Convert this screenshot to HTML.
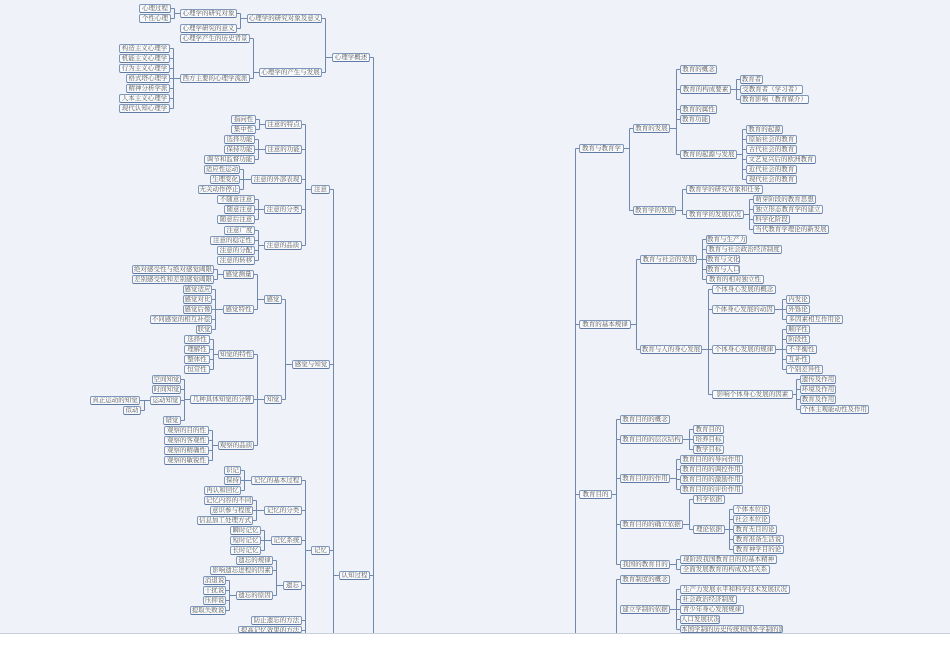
<!DOCTYPE html>
<html><head><meta charset="utf-8"><style>
html,body{margin:0;padding:0;}
body{width:950px;height:672px;background:#fff;position:relative;overflow:hidden;font-family:"Liberation Serif","Noto Serif CJK SC",serif;}
#bg{position:absolute;left:0;top:0;width:950px;height:633px;background:#eff3f9;border-bottom:1px solid #c8ceda;}
.n{position:absolute;height:9px;box-sizing:border-box;border:1px solid #7f97ba;border-bottom-color:#5f7aa2;border-radius:2px;background:#f8fafd;font-size:6.5px;line-height:7px;color:#555;white-space:nowrap;overflow:hidden;text-align:center;z-index:2;}
svg{position:absolute;left:0;top:0;z-index:1;}
</style></head><body>
<div id="bg"></div>
<svg id="s" width="950" height="633"></svg>
<div class=n id=a1 style="left:139px;top:4px;width:32px">心理过程</div>
<div class=n id=a2 style="left:139px;top:14px;width:32px">个性心理</div>
<div class=n id=a3 style="left:180px;top:9px;width:57px">心理学的研究对象</div>
<div class=n id=a4 style="left:180px;top:24px;width:57px">心理学研究的意义</div>
<div class=n id=a5 style="left:247px;top:14px;width:75px">心理学的研究对象及意义</div>
<div class=n id=a6 style="left:180px;top:34px;width:70px">心理学产生的历史背景</div>
<div class=n id=b1 style="left:119px;top:44px;width:51px">构造主义心理学</div>
<div class=n id=b2 style="left:119px;top:54px;width:51px">机能主义心理学</div>
<div class=n id=b3 style="left:119px;top:64px;width:51px">行为主义心理学</div>
<div class=n id=b4 style="left:126px;top:74px;width:44px">格式塔心理学</div>
<div class=n id=b5 style="left:126px;top:84px;width:44px">精神分析学派</div>
<div class=n id=b6 style="left:119px;top:94px;width:51px">人本主义心理学</div>
<div class=n id=b7 style="left:119px;top:104px;width:51px">现代认知心理学</div>
<div class=n id=b8 style="left:180px;top:74px;width:70px">西方主要的心理学流派</div>
<div class=n id=a7 style="left:259px;top:68px;width:63px">心理学的产生与发展</div>
<div class=n id=a0 style="left:332px;top:53px;width:38px">心理学概述</div>

<div class=n id=c1 style="left:231px;top:115px;width:25px">指向性</div>
<div class=n id=c2 style="left:231px;top:125px;width:25px">集中性</div>
<div class=n id=c3 style="left:265px;top:120px;width:37px">注意的特点</div>
<div class=n id=c4 style="left:224px;top:135px;width:31px">选择功能</div>
<div class=n id=c5 style="left:224px;top:145px;width:31px">保持功能</div>
<div class=n id=c6 style="left:204px;top:155px;width:51px">调节和监督功能</div>
<div class=n id=c7 style="left:265px;top:145px;width:37px">注意的功能</div>
<div class=n id=c8 style="left:204px;top:165px;width:36px">适应性运动</div>
<div class=n id=c9 style="left:210px;top:175px;width:30px">生理变化</div>
<div class=n id=c10 style="left:198px;top:185px;width:42px">无关动作停止</div>
<div class=n id=c11 style="left:251px;top:175px;width:51px">注意的外部表现</div>
<div class=n id=c0 style="left:311px;top:185px;width:19px">注意</div>
<div class=n id=c12 style="left:217px;top:195px;width:38px">不随意注意</div>
<div class=n id=c13 style="left:224px;top:205px;width:31px">随意注意</div>
<div class=n id=c14 style="left:217px;top:215px;width:38px">随意后注意</div>
<div class=n id=c15 style="left:264px;top:205px;width:38px">注意的分类</div>
<div class=n id=c16 style="left:224px;top:226px;width:31px">注意广度</div>
<div class=n id=c17 style="left:210px;top:236px;width:45px">注意的稳定性</div>
<div class=n id=c18 style="left:217px;top:246px;width:38px">注意的分配</div>
<div class=n id=c19 style="left:217px;top:256px;width:38px">注意的转移</div>
<div class=n id=c20 style="left:264px;top:241px;width:38px">注意的品质</div>

<div class=n id=d1 style="left:132px;top:265px;width:82px">绝对感受性与绝对感觉阈限</div>
<div class=n id=d2 style="left:132px;top:275px;width:82px">差别感受性和差别感觉阈限</div>
<div class=n id=d3 style="left:223px;top:270px;width:31px">感觉测量</div>
<div class=n id=d4 style="left:183px;top:285px;width:29px">感觉适应</div>
<div class=n id=d5 style="left:183px;top:295px;width:29px">感觉对比</div>
<div class=n id=d6 style="left:183px;top:305px;width:29px">感觉后像</div>
<div class=n id=d7 style="left:150px;top:315px;width:62px">不同感觉的相互补偿</div>
<div class=n id=d8 style="left:196px;top:325px;width:16px">联觉</div>
<div class=n id=d9 style="left:223px;top:305px;width:31px">感觉特性</div>
<div class=n id=d10 style="left:264px;top:295px;width:18px">感觉</div>
<div class=n id=e1 style="left:184px;top:335px;width:26px">选择性</div>
<div class=n id=e2 style="left:184px;top:345px;width:26px">理解性</div>
<div class=n id=e3 style="left:184px;top:355px;width:26px">整体性</div>
<div class=n id=e4 style="left:184px;top:365px;width:26px">恒常性</div>
<div class=n id=e5 style="left:218px;top:350px;width:36px">知觉的特性</div>
<div class=n id=e6 style="left:152px;top:375px;width:29px">空间知觉</div>
<div class=n id=e7 style="left:152px;top:385px;width:29px">时间知觉</div>
<div class=n id=e8 style="left:90px;top:396px;width:50px">真正运动的知觉</div>
<div class=n id=e9 style="left:123px;top:406px;width:18px">似动</div>
<div class=n id=e10 style="left:150px;top:396px;width:31px">运动知觉</div>
<div class=n id=e11 style="left:163px;top:416px;width:18px">错觉</div>
<div class=n id=e12 style="left:190px;top:395px;width:64px">几种具体知觉的分辨</div>
<div class=n id=e13 style="left:264px;top:395px;width:18px">知觉</div>
<div class=n id=e0 style="left:292px;top:360px;width:38px">感觉与知觉</div>
<div class=n id=e14 style="left:164px;top:426px;width:45px">观察的目的性</div>
<div class=n id=e15 style="left:164px;top:436px;width:45px">观察的客观性</div>
<div class=n id=e16 style="left:164px;top:446px;width:45px">观察的精确性</div>
<div class=n id=e17 style="left:164px;top:456px;width:45px">观察的敏锐性</div>
<div class=n id=e18 style="left:218px;top:441px;width:36px">观察的品质</div>

<div class=n id=f1 style="left:224px;top:466px;width:17px">识记</div>
<div class=n id=f2 style="left:224px;top:476px;width:17px">保持</div>
<div class=n id=f3 style="left:204px;top:486px;width:37px">再认和回忆</div>
<div class=n id=f4 style="left:251px;top:476px;width:51px">记忆的基本过程</div>
<div class=n id=f5 style="left:204px;top:496px;width:49px">记忆内容的不同</div>
<div class=n id=f6 style="left:210px;top:506px;width:43px">意识参与程度</div>
<div class=n id=f7 style="left:197px;top:516px;width:56px">信息加工处理方式</div>
<div class=n id=f8 style="left:264px;top:506px;width:38px">记忆的分类</div>
<div class=n id=f9 style="left:230px;top:526px;width:31px">瞬时记忆</div>
<div class=n id=f10 style="left:230px;top:536px;width:31px">短时记忆</div>
<div class=n id=f11 style="left:230px;top:546px;width:31px">长时记忆</div>
<div class=n id=f12 style="left:271px;top:536px;width:31px">记忆系统</div>
<div class=n id=f0 style="left:311px;top:546px;width:19px">记忆</div>
<div class=n id=f13 style="left:236px;top:556px;width:37px">遗忘的规律</div>
<div class=n id=f14 style="left:210px;top:566px;width:63px">影响遗忘进程的因素</div>
<div class=n id=f15 style="left:203px;top:576px;width:23px">消退说</div>
<div class=n id=f16 style="left:203px;top:586px;width:23px">干扰说</div>
<div class=n id=f17 style="left:203px;top:596px;width:23px">压抑说</div>
<div class=n id=f18 style="left:190px;top:606px;width:36px">提取失败说</div>
<div class=n id=f19 style="left:236px;top:591px;width:37px">遗忘的原因</div>
<div class=n id=f20 style="left:283px;top:581px;width:19px">遗忘</div>
<div class=n id=f21 style="left:251px;top:616px;width:51px">防止遗忘的方法</div>
<div class=n id=f22 style="left:238px;top:626px;width:64px;height:7px">提高记忆效果的方法</div>
<div class=n id=g0 style="left:339px;top:571px;width:31px">认知过程</div>

<div class=n id=r1 style="left:579px;top:144px;width:45px">教育与教育学</div>
<div class=n id=r2 style="left:633px;top:124px;width:37px">教育的发展</div>
<div class=n id=r3 style="left:680px;top:65px;width:37px">教育的概念</div>
<div class=n id=r4 style="left:680px;top:85px;width:51px">教育的构成要素</div>
<div class=n id=r5 style="left:740px;top:75px;width:23px">教育者</div>
<div class=n id=r6 style="left:740px;top:85px;width:63px">受教育者（学习者）</div>
<div class=n id=r7 style="left:740px;top:95px;width:69px">教育影响（教育媒介）</div>
<div class=n id=r8 style="left:680px;top:105px;width:37px">教育的属性</div>
<div class=n id=r9 style="left:680px;top:115px;width:30px">教育功能</div>
<div class=n id=r10 style="left:680px;top:150px;width:57px">教育的起源与发展</div>
<div class=n id=r11 style="left:746px;top:125px;width:37px">教育的起源</div>
<div class=n id=r12 style="left:746px;top:135px;width:51px">原始社会的教育</div>
<div class=n id=r13 style="left:746px;top:145px;width:51px">古代社会的教育</div>
<div class=n id=r14 style="left:746px;top:155px;width:70px">文艺复兴后的欧洲教育</div>
<div class=n id=r15 style="left:746px;top:165px;width:51px">近代社会的教育</div>
<div class=n id=r16 style="left:746px;top:175px;width:51px">现代社会的教育</div>
<div class=n id=r17 style="left:633px;top:206px;width:43px">教育学的发展</div>
<div class=n id=r18 style="left:686px;top:185px;width:77px">教育学的研究对象和任务</div>
<div class=n id=r19 style="left:686px;top:210px;width:58px">教育学的发展状况</div>
<div class=n id=r20 style="left:753px;top:195px;width:63px">萌芽阶段的教育思想</div>
<div class=n id=r21 style="left:753px;top:205px;width:70px">独立形态教育学的建立</div>
<div class=n id=r22 style="left:753px;top:215px;width:37px">科学化阶段</div>
<div class=n id=r23 style="left:753px;top:225px;width:76px">当代教育学理论的新发展</div>

<div class=n id=s0 style="left:579px;top:320px;width:52px">教育的基本规律</div>
<div class=n id=s1 style="left:640px;top:255px;width:57px">教育与社会的发展</div>
<div class=n id=s2 style="left:706px;top:235px;width:41px">教育与生产力</div>
<div class=n id=s3 style="left:706px;top:245px;width:76px">教育与社会政治经济制度</div>
<div class=n id=s4 style="left:706px;top:255px;width:34px">教育与文化</div>
<div class=n id=s5 style="left:706px;top:265px;width:34px">教育与人口</div>
<div class=n id=s6 style="left:706px;top:275px;width:58px">教育的相对独立性</div>
<div class=n id=s7 style="left:640px;top:345px;width:62px">教育与人的身心发展</div>
<div class=n id=s8 style="left:712px;top:285px;width:64px">个体身心发展的概念</div>
<div class=n id=s9 style="left:712px;top:305px;width:63px">个体身心发展的动因</div>
<div class=n id=s10 style="left:786px;top:295px;width:24px">内发论</div>
<div class=n id=s11 style="left:786px;top:305px;width:24px">外铄论</div>
<div class=n id=s12 style="left:786px;top:315px;width:57px">多因素相互作用论</div>
<div class=n id=s13 style="left:712px;top:345px;width:64px">个体身心发展的规律</div>
<div class=n id=s14 style="left:786px;top:325px;width:24px">顺序性</div>
<div class=n id=s15 style="left:786px;top:335px;width:24px">阶段性</div>
<div class=n id=s16 style="left:786px;top:345px;width:31px">不平衡性</div>
<div class=n id=s17 style="left:786px;top:355px;width:24px">互补性</div>
<div class=n id=s18 style="left:786px;top:365px;width:37px">个别差异性</div>
<div class=n id=s19 style="left:712px;top:390px;width:81px">影响个体身心发展的因素</div>
<div class=n id=s20 style="left:800px;top:375px;width:36px">遗传及作用</div>
<div class=n id=s21 style="left:800px;top:385px;width:36px">环境及作用</div>
<div class=n id=s22 style="left:800px;top:395px;width:36px">教育及作用</div>
<div class=n id=s23 style="left:800px;top:405px;width:69px">个体主观能动性及作用</div>

<div class=n id=t0 style="left:579px;top:490px;width:33px">教育目的</div>
<div class=n id=t1 style="left:620px;top:415px;width:50px">教育目的的概念</div>
<div class=n id=t2 style="left:620px;top:435px;width:63px">教育目的的层次结构</div>
<div class=n id=t3 style="left:693px;top:425px;width:31px">教育目的</div>
<div class=n id=t4 style="left:693px;top:435px;width:31px">培养目标</div>
<div class=n id=t5 style="left:693px;top:445px;width:31px">教学目标</div>
<div class=n id=t6 style="left:620px;top:474px;width:50px">教育目的的作用</div>
<div class=n id=t7 style="left:680px;top:455px;width:63px">教育目的的导向作用</div>
<div class=n id=t8 style="left:680px;top:465px;width:63px">教育目的的调控作用</div>
<div class=n id=t9 style="left:680px;top:475px;width:63px">教育目的的激励作用</div>
<div class=n id=t10 style="left:680px;top:485px;width:63px">教育目的的评价作用</div>
<div class=n id=t11 style="left:620px;top:520px;width:63px">教育目的的确立依据</div>
<div class=n id=t12 style="left:693px;top:495px;width:32px">科学依据</div>
<div class=n id=t13 style="left:693px;top:525px;width:32px">理论依据</div>
<div class=n id=t14 style="left:733px;top:505px;width:37px">个体本位论</div>
<div class=n id=t15 style="left:733px;top:515px;width:37px">社会本位论</div>
<div class=n id=t16 style="left:733px;top:525px;width:44px">教育无目的论</div>
<div class=n id=t17 style="left:733px;top:535px;width:51px">教育准备生活说</div>
<div class=n id=t18 style="left:733px;top:545px;width:51px">教育神学目的论</div>
<div class=n id=t19 style="left:620px;top:560px;width:50px">我国的教育目的</div>
<div class=n id=t20 style="left:680px;top:555px;width:97px">现阶段我国教育目的的基本精神</div>
<div class=n id=t21 style="left:680px;top:565px;width:90px">全面发展教育的构成及其关系</div>
<div class=n id=u1 style="left:620px;top:575px;width:50px">教育制度的概念</div>
<div class=n id=u2 style="left:620px;top:605px;width:50px">建立学制的依据</div>
<div class=n id=u3 style="left:680px;top:585px;width:110px">生产力发展水平和科学技术发展状况</div>
<div class=n id=u4 style="left:680px;top:595px;width:57px">社会政治经济制度</div>
<div class=n id=u5 style="left:680px;top:605px;width:64px">青少年身心发展规律</div>
<div class=n id=u6 style="left:680px;top:615px;width:40px">人口发展状况</div>
<div class=n id=u7 style="left:680px;top:625px;width:103px;height:8px">本国学制的历史传统和国外学制的影响</div>
<script>
(function(){
var s=document.getElementById('s'),NS='http://www.w3.org/2000/svg';
function ln(x1,y1,x2,y2){var l=document.createElementNS(NS,'line');l.setAttribute('x1',x1);l.setAttribute('y1',y1);l.setAttribute('x2',x2);l.setAttribute('y2',y2);l.setAttribute('stroke','#6f88ad');l.setAttribute('stroke-width','1');s.appendChild(l);}
function b(id){var e=document.getElementById(id);var l=parseFloat(e.style.left),t=parseFloat(e.style.top),w=parseFloat(e.style.width);return {l:l,r:l+w,cy:t+4.5};}
function L(p,cs){var P=b(p),mr=0,ys=[P.cy];cs.forEach(function(c){var C=b(c);mr=Math.max(mr,C.r);});var bx=mr+3.5;
cs.forEach(function(c){var C=b(c);ln(C.r,C.cy,bx,C.cy);ys.push(C.cy);});ln(bx,P.cy,P.l,P.cy);ln(bx,Math.min.apply(0,ys),bx,Math.max.apply(0,ys));}
function R(p,cs){var P=b(p),ml=9999,ys=[P.cy];cs.forEach(function(c){var C=b(c);ml=Math.min(ml,C.l);});var bx=ml-3.5;
cs.forEach(function(c){var C=b(c);ln(bx,C.cy,C.l,C.cy);ys.push(C.cy);});ln(P.r,P.cy,bx,P.cy);ln(bx,Math.min.apply(0,ys),bx,Math.max.apply(0,ys));}
L('a3',['a1','a2']);L('a5',['a3','a4']);L('b8',['b1','b2','b3','b4','b5','b6','b7']);L('a7',['a6','b8']);L('a0',['a5','a7']);
L('c3',['c1','c2']);L('c7',['c4','c5','c6']);L('c11',['c8','c9','c10']);L('c15',['c12','c13','c14']);L('c20',['c16','c17','c18','c19']);
L('c0',['c3','c7','c11','c15','c20']);
L('d3',['d1','d2']);L('d9',['d4','d5','d6','d7','d8']);L('d10',['d3','d9']);
L('e5',['e1','e2','e3','e4']);L('e10',['e8','e9']);L('e12',['e6','e7','e10','e11']);L('e18',['e14','e15','e16','e17']);L('e13',['e5','e12','e18']);L('e0',['d10','e13']);
L('f4',['f1','f2','f3']);L('f8',['f5','f6','f7']);L('f12',['f9','f10','f11']);L('f19',['f15','f16','f17','f18']);L('f20',['f13','f14','f19']);
L('f0',['f4','f8','f12','f20','f21','f22']);ln(305.5,626,305.5,633);
L('g0',['c0','e0','f0']);ln(333.5,550,333.5,633);
ln(373.5,57.5,373.5,633);ln(370,57.5,373.5,57.5);ln(370,575.5,373.5,575.5);
R('r4',['r5','r6','r7']);R('r10',['r11','r12','r13','r14','r15','r16']);R('r2',['r3','r4','r8','r9','r10']);
R('r19',['r20','r21','r22','r23']);R('r17',['r18','r19']);R('r1',['r2','r17']);
R('s1',['s2','s3','s4','s5','s6']);R('s9',['s10','s11','s12']);R('s13',['s14','s15','s16','s17','s18']);R('s19',['s20','s21','s22','s23']);
R('s7',['s8','s9','s13','s19']);R('s0',['s1','s7']);
R('t2',['t3','t4','t5']);R('t6',['t7','t8','t9','t10']);R('t13',['t14','t15','t16','t17','t18']);R('t11',['t12','t13']);R('t19',['t20','t21']);
R('t0',['t1','t2','t6','t11','t19']);
R('u2',['u3','u4','u5','u6','u7']);ln(616.5,579.5,616.5,633);ln(616.5,579.5,620,579.5);
ln(575.5,148.5,575.5,633);ln(575.5,148.5,579,148.5);ln(575.5,324.5,579,324.5);ln(575.5,494.5,579,494.5);
})();
</script>
</body></html>
